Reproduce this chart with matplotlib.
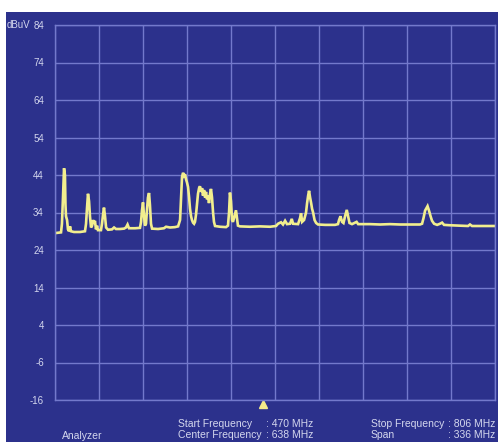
import numpy as np
import matplotlib
matplotlib.use('Agg')
import matplotlib.pyplot as plt
from matplotlib.patches import Rectangle

plt.rcParams['font.family'] = ['Liberation Sans', 'DejaVu Sans']

# spectrum trace, MHz vs dBuV
freq = [470.0, 472.3, 474.6, 475.3, 476.1, 476.9, 477.6, 478.0, 478.4, 479.2,
        479.9, 480.7, 481.5, 482.2, 484.5, 489.1, 492.9, 493.7, 494.4, 495.2,
        496.0, 496.7, 497.5, 498.3, 499.0, 499.8, 500.5, 501.3, 502.1, 502.8,
        505.1, 505.9, 506.7, 507.4, 508.2, 509.0, 510.5, 513.5, 515.1, 516.6,
        519.6, 522.7, 524.2, 525.4, 526.5, 531.1, 534.9, 535.7, 536.4, 537.2,
        538.0, 538.7, 539.5, 540.3, 541.0, 541.8, 542.5, 543.3, 544.1, 548.7,
        553.2, 554.8, 557.8, 561.6, 564.0, 565.5, 566.3, 567.0, 567.8, 568.6,
        569.3, 570.1, 570.8, 571.6, 572.4, 573.1, 573.9, 574.6, 575.4, 576.2,
        576.9, 577.7, 578.5, 579.2, 580.0, 580.7, 581.5, 582.3, 583.0, 583.8,
        584.6, 585.3, 586.1, 586.8, 587.6, 588.4, 589.1, 589.9, 590.7, 591.4,
        592.2, 596.0, 600.6, 602.1, 602.9, 603.6, 604.4, 605.2, 605.9, 606.7,
        607.4, 608.2, 609.0, 609.7, 611.2, 618.9, 626.5, 634.2, 638.8, 640.3,
        642.6, 644.1, 645.7, 647.2, 649.5, 650.8, 651.8, 655.6, 657.1, 657.9,
        658.7, 660.2, 661.7, 662.5, 663.3, 664.0, 664.8, 665.6, 666.3, 667.1,
        668.2, 669.4, 670.9, 676.3, 683.8, 686.1, 686.9, 688.0, 689.2, 690.3,
        691.5, 692.8, 693.8, 694.9, 696.8, 700.3, 701.5, 710.6, 718.2, 725.8,
        733.5, 741.1, 748.7, 750.3, 751.4, 752.6, 753.7, 754.5, 755.6, 756.8,
        757.9, 759.5, 761.8, 764.0, 765.6, 767.1, 771.6, 779.3, 785.4, 786.9,
        788.5, 794.6, 802.2, 806.0]
level = [28.5, 28.6, 28.7, 31.0, 38.0, 45.8, 44.0, 36.0, 33.0, 32.0,
         29.5, 29.0, 30.3, 29.0, 28.8, 28.8, 29.0, 31.0, 35.0, 39.0,
         37.0, 33.0, 30.0, 30.5, 32.0, 31.0, 31.8, 29.5, 30.5, 29.3,
         29.3, 31.0, 33.5, 35.3, 33.0, 30.0, 29.4, 29.5, 30.0, 29.6,
         29.6, 29.7, 30.0, 30.8, 29.8, 29.8, 29.9, 31.5, 34.5, 36.7,
         33.0, 30.5, 31.0, 35.0, 38.0, 39.2, 36.0, 31.0, 29.7, 29.6,
         29.8, 30.2, 30.0, 30.1, 30.3, 32.0, 38.0, 43.5, 44.6, 43.8,
         44.2, 42.8, 42.0, 40.8, 38.0, 35.0, 33.0, 32.0, 31.3, 31.0,
         31.5, 33.5, 36.5, 39.0, 40.5, 41.0, 39.5, 40.5, 38.5, 40.0,
         38.0, 39.5, 37.5, 38.5, 36.5, 39.0, 40.3, 38.0, 34.0, 31.5,
         30.4, 30.2, 30.1, 30.5, 34.0, 39.3, 37.0, 32.0, 31.5, 32.5,
         33.5, 34.6, 32.5, 30.5, 30.3, 30.2, 30.3, 30.2, 30.4, 31.0,
         31.4, 30.8, 31.8, 30.9, 31.0, 32.3, 31.0, 30.9, 32.5, 33.8,
         31.5, 32.0, 34.0, 36.5, 38.5, 39.8, 38.0, 36.5, 35.0, 34.0,
         32.0, 31.2, 30.8, 30.7, 30.7, 30.9, 32.0, 33.0, 31.5, 31.2,
         33.0, 34.7, 33.0, 31.2, 30.9, 31.5, 30.9, 30.9, 30.8, 30.9,
         30.8, 30.8, 30.8, 31.0, 32.5, 34.5, 35.2, 35.7, 34.5, 33.0,
         31.8, 31.0, 30.7, 31.0, 31.3, 30.7, 30.6, 30.5, 30.4, 30.8,
         30.4, 30.4, 30.4, 30.4]

f_start = 470
f_stop = 806
y_ticks = [84, 74, 64, 54, 44, 34, 24, 14, 4, -6, -16]
marker_freq = 629
info_left = [('Start Frequency', ': 470 MHz'), ('Center Frequency', ': 638 MHz')]
info_right = [('Stop Frequency', ': 806 MHz'), ('Span', ': 336 MHz')]

W, H = 498, 442
bg = '#2c318c'
gridc = '#7379cc'
txtc = '#d4d7ee'
trace = '#f2ee8e'

fig = plt.figure(figsize=(W/100, H/100), dpi=100, facecolor='white')
fig.patches.append(Rectangle((6/W, 0), 1, (H-12)/H, transform=fig.transFigure,
                             facecolor=bg, edgecolor='none', zorder=-10))

ax = fig.add_axes([55/W, 42/H, 440/W, 375/H])
ax.set_facecolor(bg)
ax.set_xlim(f_start, f_stop)
ax.set_ylim(-16, 84)
for s in ax.spines.values():
    s.set_color(gridc)
    s.set_linewidth(1.0)

ax.set_xticks(np.linspace(f_start, f_stop, 11))
ax.set_yticks(y_ticks)
ax.set_yticklabels([str(v) for v in y_ticks])
ax.tick_params(axis='x', length=0, labelbottom=False)
ax.tick_params(axis='y', length=0, pad=8, labelsize=7, labelcolor=txtc)
ax.grid(True, color=gridc, linewidth=1.0)
ax.set_axisbelow(True)

ax.plot(freq, level, color=trace, linewidth=1.9, solid_joinstyle='miter')
ax.plot([marker_freq], [-17.1], marker='^', markersize=5.5, color='#f5ec8a',
        clip_on=False, linestyle='none')

fig.text(7/W, 1 - 25/H, 'dBuV', color=txtc, fontsize=7, va='center')

rows_y = [424, 435]
for (name, val), yy in zip(info_left, rows_y):
    fig.text(178/W, 1 - yy/H, name, color=txtc, fontsize=7.5, va='center')
    fig.text(266/W, 1 - yy/H, val, color=txtc, fontsize=7.5, va='center')
for (name, val), yy in zip(info_right, rows_y):
    fig.text(371/W, 1 - yy/H, name, color=txtc, fontsize=7.5, va='center')
    fig.text(448/W, 1 - yy/H, val, color=txtc, fontsize=7.5, va='center')
fig.text(62/W, 1 - 436/H, 'Analyzer', color=txtc, fontsize=7.5, va='center')

fig.savefig('out.png', dpi=100, facecolor=fig.get_facecolor())
